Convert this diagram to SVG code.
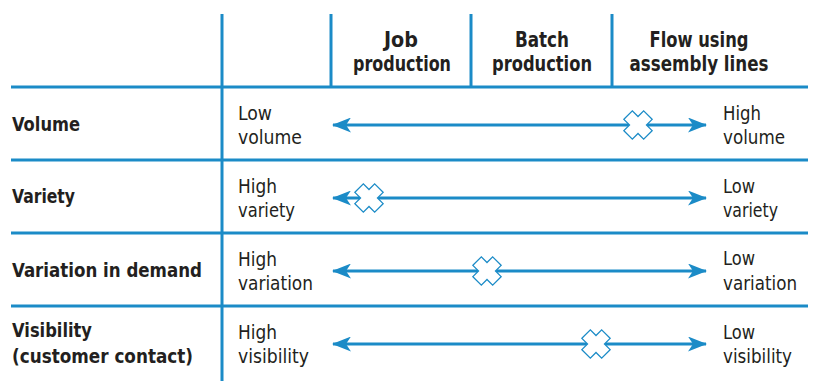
<svg xmlns="http://www.w3.org/2000/svg" width="822" height="387" viewBox="0 0 822 387">
<defs>
<style>
text{font-family:"DejaVu Sans Condensed","Liberation Sans Narrow","Liberation Sans",sans-serif;font-stretch:condensed;fill:#231f20;font-size:20px}
.b{font-weight:bold}
.h{text-anchor:middle;font-size:22px}
.grid{stroke:#1b8bc7;stroke-width:3;fill:none}
.arr{stroke:#1b8bc7;stroke-width:3;fill:none;marker-start:url(#ah);marker-end:url(#ah)}
.x{fill:#fff;stroke:#1b8bc7;stroke-width:1.3}
</style>
<marker id="ah" viewBox="0 0 19 15" refX="18" refY="7.5" markerWidth="19" markerHeight="15" markerUnits="userSpaceOnUse" orient="auto-start-reverse">
<path d="M0,0 L19,7.5 L0,15 L5,7.5 Z" fill="#1b8bc7"/>
</marker>
<polygon id="cross" points="-6,-14 6,-14 6,-6 14,-6 14,6 6,6 6,14 -6,14 -6,6 -14,6 -14,-6 -6,-6" transform="rotate(45)"/>
</defs>
<g id="grid" class="grid">
<line x1="222" y1="14" x2="222" y2="381"/>
<line x1="331" y1="14" x2="331" y2="88"/>
<line x1="471" y1="14" x2="471" y2="88"/>
<line x1="612" y1="14" x2="612" y2="88"/>
<line x1="11" y1="87" x2="808" y2="87"/>
<line x1="11" y1="160" x2="808" y2="160"/>
<line x1="11" y1="233" x2="808" y2="233"/>
<line x1="11" y1="306" x2="808" y2="306"/>
</g>
<g id="header-job"><text class="b h" x="401" y="47" textLength="34" lengthAdjust="spacingAndGlyphs">Job</text><text class="b h" x="402" y="71" textLength="98" lengthAdjust="spacingAndGlyphs">production</text></g>
<g id="header-batch"><text class="b h" x="542" y="47" textLength="54" lengthAdjust="spacingAndGlyphs">Batch</text><text class="b h" x="542" y="71" textLength="100" lengthAdjust="spacingAndGlyphs">production</text></g>
<g id="header-flow"><text class="b h" x="699" y="47" textLength="99" lengthAdjust="spacingAndGlyphs">Flow using</text><text class="b h" x="699" y="71" textLength="139" lengthAdjust="spacingAndGlyphs">assembly lines</text></g>
<g id="row-volume">
<text class="b" x="12" y="131" textLength="68" lengthAdjust="spacingAndGlyphs">Volume</text>
<text x="238" y="120" textLength="34" lengthAdjust="spacingAndGlyphs">Low</text><text x="238" y="144" textLength="64" lengthAdjust="spacingAndGlyphs">volume</text>
<text x="723" y="120" textLength="38" lengthAdjust="spacingAndGlyphs">High</text><text x="723" y="144" textLength="62" lengthAdjust="spacingAndGlyphs">volume</text>
</g>
<g id="row-variety">
<text class="b" x="12" y="203" textLength="63" lengthAdjust="spacingAndGlyphs">Variety</text>
<text x="238" y="193" textLength="39" lengthAdjust="spacingAndGlyphs">High</text><text x="238" y="217" textLength="57" lengthAdjust="spacingAndGlyphs">variety</text>
<text x="723" y="193" textLength="32" lengthAdjust="spacingAndGlyphs">Low</text><text x="723" y="217" textLength="55" lengthAdjust="spacingAndGlyphs">variety</text>
</g>
<g id="row-variation">
<text class="b" x="12" y="277" textLength="190" lengthAdjust="spacingAndGlyphs">Variation in demand</text>
<text x="238" y="266" textLength="39" lengthAdjust="spacingAndGlyphs">High</text><text x="238" y="290" textLength="75" lengthAdjust="spacingAndGlyphs">variation</text>
<text x="723" y="265" textLength="32" lengthAdjust="spacingAndGlyphs">Low</text><text x="723" y="290" textLength="74" lengthAdjust="spacingAndGlyphs">variation</text>
</g>
<g id="row-visibility">
<text class="b" x="12" y="337" textLength="80" lengthAdjust="spacingAndGlyphs">Visibility</text>
<text class="b" x="12" y="363" textLength="181" lengthAdjust="spacingAndGlyphs">(customer contact)</text>
<text x="238" y="339" textLength="39" lengthAdjust="spacingAndGlyphs">High</text><text x="238" y="363" textLength="71" lengthAdjust="spacingAndGlyphs">visibility</text>
<text x="723" y="339" textLength="32" lengthAdjust="spacingAndGlyphs">Low</text><text x="723" y="363" textLength="69" lengthAdjust="spacingAndGlyphs">visibility</text>
</g>
<g id="connectors">
<line class="arr" x1="333" y1="125" x2="706" y2="125"/>
<line class="arr" x1="333" y1="198" x2="706" y2="198"/>
<line class="arr" x1="333" y1="271" x2="706" y2="271"/>
<line class="arr" x1="333" y1="344" x2="706" y2="344"/>
</g>
<g id="markers" class="x">
<use href="#cross" x="638" y="125"/>
<use href="#cross" x="369" y="198"/>
<use href="#cross" x="487" y="271"/>
<use href="#cross" x="596" y="344"/>
</g>
</svg>
